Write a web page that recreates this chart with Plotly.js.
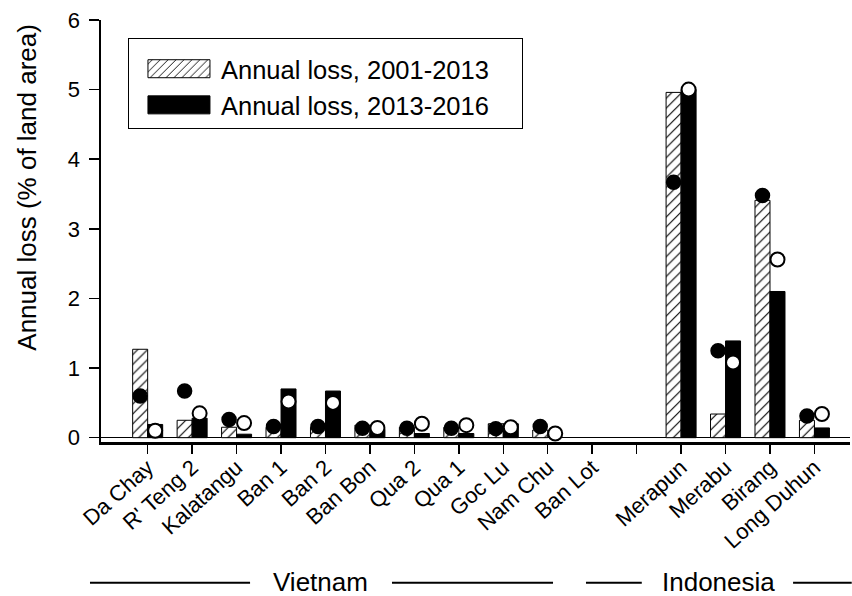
<!DOCTYPE html>
<html>
<head>
<meta charset="utf-8">
<script src="https://cdn.plot.ly/plotly-3.0.1.min.js"></script>
<style>html,body{margin:0;padding:0;background:#fff;}#chart{width:852px;height:596px;}</style>
</head>
<body>
<div id="chart"></div>
<script>
const sites = ['Da Chay', "R' Teng 2", 'Kalatangu', 'Ban 1', 'Ban 2', 'Ban Bon', 'Qua 2', 'Qua 1', 'Goc Lu', 'Nam Chu', 'Ban Lot', ' ', 'Merapun', 'Merabu', 'Birang', 'Long Duhun'];
const loss2001_2013 = [1.27, 0.25, 0.15, 0.15, 0.15, 0.18, 0.15, 0.15, 0.20, 0.11, null, null, 4.96, 0.34, 3.41, 0.25];
const loss2013_2016 = [0.19, 0.28, 0.05, 0.70, 0.67, 0.12, 0.06, 0.06, 0.20, null, null, null, 5.00, 1.39, 2.10, 0.14];
const altLoss2001_2013 = [0.60, 0.67, 0.26, 0.16, 0.16, 0.135, 0.135, 0.135, 0.13, 0.16, null, null, 3.67, 1.25, 3.48, 0.31];
const altLoss2013_2016 = [0.10, 0.35, 0.21, 0.52, 0.50, 0.14, 0.20, 0.18, 0.15, 0.06, null, null, 5.00, 1.08, 2.56, 0.34];
const seriesNames = ['Annual loss, 2001-2013', 'Annual loss, 2013-2016'];
const groupLabels = ['Vietnam', 'Indonesia'];
const yTitle = 'Annual loss (% of land area)';

const FONT = 'Arial, "Liberation Sans", sans-serif';

const traces = [
  {
    type: 'bar', name: seriesNames[0], x: sites, y: loss2001_2013, offsetgroup: 'a',
    marker: {color: 'white', line: {color: 'black', width: 1},
      pattern: {shape: '/', fgcolor: 'black', bgcolor: 'white', size: 7, solidity: 0.16}}
  },
  {
    type: 'bar', name: seriesNames[1], x: sites, y: loss2013_2016, offsetgroup: 'b',
    marker: {color: 'black', line: {color: 'black', width: 1}}
  },
  {
    type: 'scatter', mode: 'markers', x: sites, y: altLoss2001_2013, offsetgroup: 'a', showlegend: false,
    marker: {symbol: 'circle', size: 14, color: 'black', line: {color: 'black', width: 1.5}}, cliponaxis: false
  },
  {
    type: 'scatter', mode: 'markers', x: sites, y: altLoss2013_2016, offsetgroup: 'b', showlegend: false,
    marker: {symbol: 'circle', size: 14, color: 'white', line: {color: 'black', width: 2}}, cliponaxis: false
  }
];

const lineY = -0.3334;
const layout = {
  width: 852, height: 596,
  margin: {l: 101, r: 2, t: 20, b: 154},
  paper_bgcolor: 'white', plot_bgcolor: 'white',
  font: {family: FONT, color: 'black'},
  barmode: 'group', bargap: 0.325, bargroupgap: 0,
  scattermode: 'group', scattergap: 0.325,
  showlegend: true,
  legend: {
    x: 0.036, y: 0.957, xanchor: 'left', yanchor: 'top',
    bgcolor: 'white', bordercolor: 'black', borderwidth: 1,
    font: {family: FONT, size: 25.5, color: 'black'},
    title: {text: ' ', font: {family: FONT, size: 5}},
    itemwidth: 82, tracegroupgap: 0
  },
  xaxis: {
    type: 'category', categoryorder: 'array', categoryarray: sites,
    range: [-1.05, 15.8],
    showline: true, linecolor: 'black', linewidth: 3,
    ticks: 'outside', ticklen: 9, tickwidth: 1.5, tickcolor: 'black',
    tickangle: -42, tickfont: {family: FONT, size: 22, color: 'black'},
    ticklabelstandoff: -8,
    showgrid: false, zeroline: false
  },
  yaxis: {
    range: [-0.062, 6],
    tickvals: [0, 1, 2, 3, 4, 5, 6],
    showline: true, linecolor: 'black', linewidth: 2.5,
    ticks: 'outside', ticklen: 10, tickwidth: 1.5, tickcolor: 'black',
    tickfont: {family: FONT, size: 22, color: 'black'},
    ticklabelstandoff: 4,
    showgrid: false, zeroline: true, zerolinecolor: 'black', zerolinewidth: 1.5
  },
  shapes: [
    {type: 'line', xref: 'paper', yref: 'paper', x0: -0.0147, x1: 0.199, y0: lineY, y1: lineY, line: {color: 'black', width: 2}},
    {type: 'line', xref: 'paper', yref: 'paper', x0: 0.3885, x1: 0.6035, y0: lineY, y1: lineY, line: {color: 'black', width: 2}},
    {type: 'line', xref: 'paper', yref: 'paper', x0: 0.6475, x1: 0.722, y0: lineY, y1: lineY, line: {color: 'black', width: 2}},
    {type: 'line', xref: 'paper', yref: 'paper', x0: 0.924, x1: 1.0023, y0: lineY, y1: lineY, line: {color: 'black', width: 2}}
  ],
  annotations: [
    {text: groupLabels[0], xref: 'paper', yref: 'paper', x: 0.293, y: -0.331, showarrow: false, xanchor: 'center', yanchor: 'middle', font: {family: FONT, size: 26, color: 'black'}},
    {text: groupLabels[1], xref: 'paper', yref: 'paper', x: 0.825, y: -0.331, showarrow: false, xanchor: 'center', yanchor: 'middle', font: {family: FONT, size: 26, color: 'black'}},
    {text: yTitle, xref: 'paper', yref: 'paper', x: -0.098, y: 0.604, showarrow: false, xanchor: 'center', yanchor: 'middle', textangle: -90, font: {family: FONT, size: 26, color: 'black'}}
  ]
};

Plotly.newPlot('chart', traces, layout, {staticPlot: true, displayModeBar: false}).then(function () {
  // enlarge the legend swatches to the wide bars of the original figure
  document.querySelectorAll('#chart .legend .legendpoints path').forEach(function (p) {
    p.setAttribute('d', 'M35,9H-27V-9H35Z');
  });
  // widen the legend frame to the original's right padding
  document.querySelectorAll('#chart .legend rect.bg').forEach(function (r) {
    r.setAttribute('width', 394);
  });
});
</script>
</body>
</html>
